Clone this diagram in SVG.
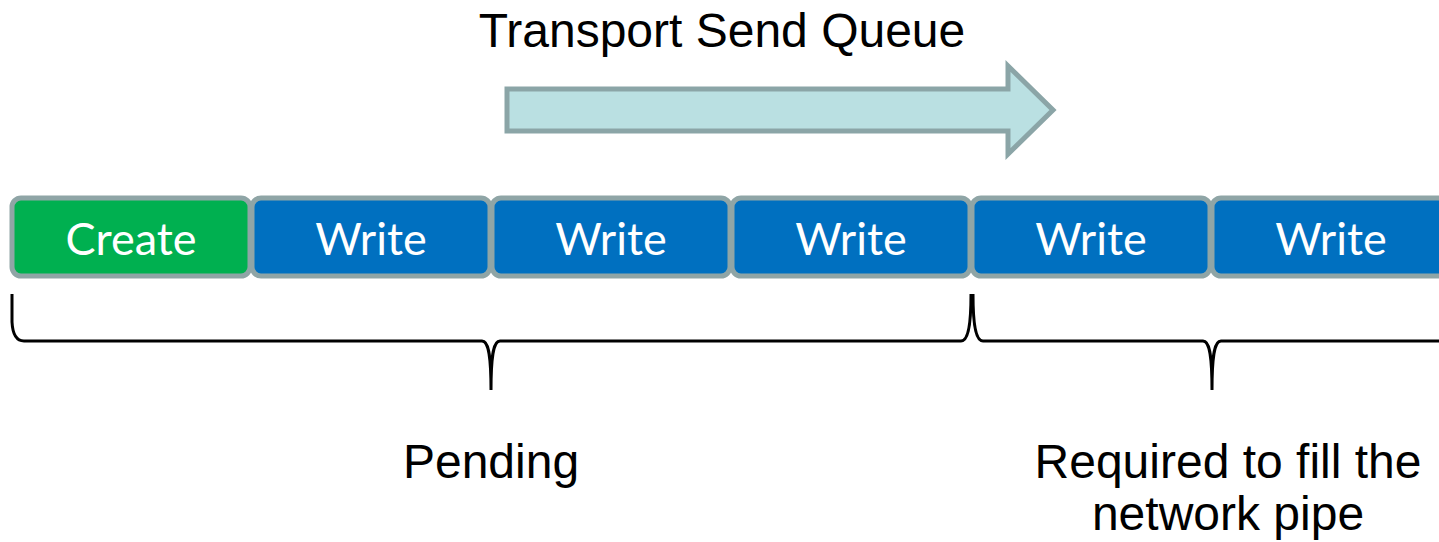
<svg xmlns="http://www.w3.org/2000/svg" width="1439" height="542" viewBox="0 0 1439 542">
  <style>
    .cell { stroke: #8FA5A6; stroke-width: 5; }
    .create { fill: #00B050; }
    .write { fill: #0070C0; }
    .cell-label { font-family: Lato, "Open Sans", sans-serif; font-size: 45px; fill: #FFFFFF; text-anchor: middle; }
    .label { font-family: "Liberation Sans", Arial, sans-serif; font-size: 48px; fill: #000000; text-anchor: middle; }
    .brace { fill: none; stroke: #000000; stroke-width: 3; }
  </style>
  <rect width="1439" height="542" fill="#FFFFFF"/>

  <!-- heading and direction arrow -->
  <g id="queue-title">
    <text class="label" x="722" y="47">Transport Send Queue</text>
  </g>
  <g id="queue-arrow">
    <path d="M507,89 H1008 V66 L1053,110 L1008,154 V131 H507 Z" fill="#BAE0E2" stroke="#8BA5A7" stroke-width="5" stroke-linejoin="miter"/>
  </g>

  <!-- queue cells -->
  <g id="cell-create">
    <rect class="cell create" x="12" y="198" width="238" height="78" rx="9"/>
    <text class="cell-label" x="131" y="255">Create</text>
  </g>
  <g id="cell-write-1">
    <rect class="cell write" x="252" y="198" width="238" height="78" rx="9"/>
    <text class="cell-label" x="371" y="255">Write</text>
  </g>
  <g id="cell-write-2">
    <rect class="cell write" x="492" y="198" width="238" height="78" rx="9"/>
    <text class="cell-label" x="611" y="255">Write</text>
  </g>
  <g id="cell-write-3">
    <rect class="cell write" x="732" y="198" width="238" height="78" rx="9"/>
    <text class="cell-label" x="851" y="255">Write</text>
  </g>
  <g id="cell-write-4">
    <rect class="cell write" x="972" y="198" width="238" height="78" rx="9"/>
    <text class="cell-label" x="1091" y="255">Write</text>
  </g>
  <g id="cell-write-5">
    <rect class="cell write" x="1212" y="198" width="238" height="78" rx="9"/>
    <text class="cell-label" x="1331" y="255">Write</text>
  </g>

  <!-- grouping braces -->
  <g id="connectors">
    <path class="brace" d="M12,294 L12,322 Q13,341 24,341 H482 C488,341 491,352 491,390 C491,352 494,341 500,341 H961 C967,341 971,330 971,294"/>
    <path class="brace" d="M973,294 C973,330 977,341 983,341 H1203 C1209,341 1212,352 1212,390 C1212,352 1215,341 1221,341 H1445"/>
  </g>

  <!-- brace captions -->
  <g id="pending-label">
    <text class="label" x="491" y="478">Pending</text>
  </g>
  <g id="pipe-label">
    <text class="label" x="1228" y="478">Required to fill the</text>
    <text class="label" x="1228" y="530">network pipe</text>
  </g>
</svg>
